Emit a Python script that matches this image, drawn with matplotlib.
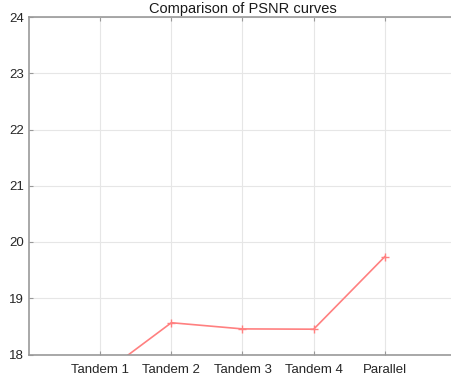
import matplotlib
matplotlib.use("Agg")
import matplotlib.pyplot as plt

categories = ["Tandem 1", "Tandem 2", "Tandem 3", "Tandem 4", "Parallel"]
psnr = [17.62, 18.565, 18.455, 18.45, 19.74]
y_ticks = [18, 19, 20, 21, 22, 23, 24]

plt.rcParams['font.family'] = ['Liberation Sans', 'DejaVu Sans']

fig = plt.figure(figsize=(4.51, 3.8), dpi=100)
W, H = 451, 380
left, right, top, bottom = 29, 456, 17, 354.5
ax = fig.add_axes([left / W, 1 - bottom / H, (right - left) / W, (bottom - top) / H])

x = list(range(1, len(categories) + 1))
ax.plot(x, psnr, color='#ff8080', lw=1.2, marker='+', ms=6, mew=1.0, clip_on=True)

ax.set_xlim(0, 6)
ax.set_ylim(18, 24)
ax.set_xticks(x)
ax.set_xticklabels(categories)
ax.set_yticks(y_ticks)
ax.grid(True, color='#e6e6e6', lw=0.8)
ax.set_axisbelow(True)
for s in ax.spines.values():
    s.set_color('#999999')
    s.set_linewidth(1.2)
ax.tick_params(direction='in', length=3, color='#999999', labelsize=9.5, labelcolor='#262626',
               top=True, right=True)
ax.tick_params(axis='x', pad=7)
ax.set_title("Comparison of PSNR curves", fontsize=10.5, color='#1a1a1a', pad=3)

fig.savefig("out.png", dpi=100)
